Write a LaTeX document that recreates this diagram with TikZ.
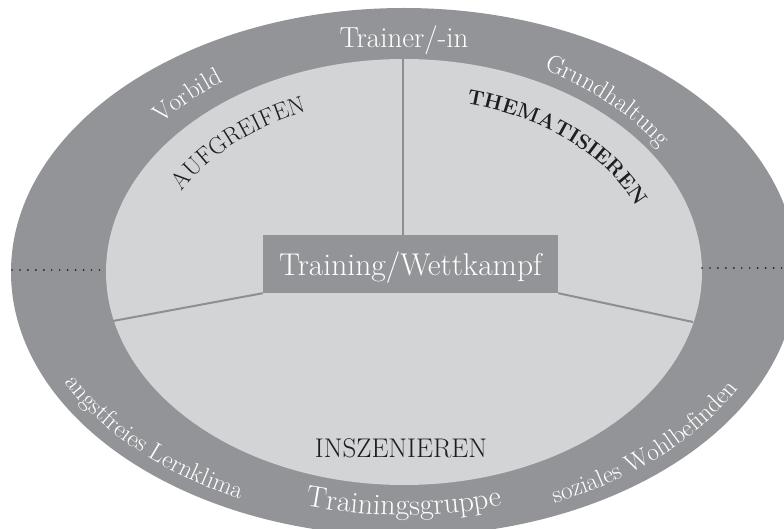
\documentclass[tikz,border=0pt]{standalone}
\usepackage{fontspec}
\usetikzlibrary{decorations.text}
\definecolor{ringgray}{HTML}{939498}
\definecolor{innergray}{HTML}{D3D4D6}
\definecolor{linegray}{HTML}{8E8F93}
\definecolor{inkblack}{HTML}{1E1E1E}
\newcommand{\arclabel}[5]{%
  \path[decorate,decoration={text along path,text align={center},text={#5}}]
    ([shift={(#3:#1pt and #2pt)}]C) arc[start angle=#3,end angle=#4,x radius=#1pt,y radius=#2pt];}
\begin{document}
\begin{tikzpicture}[x=1pt,y=1pt,
  divline/.style={draw=linegray,line width=2pt},
  dotline/.style={draw=inkblack,line width=1.9pt,line cap=round,dash pattern=on 0pt off 7.95pt},
  whitetext/.style={text=white,inner sep=0pt},
  blacktext/.style={text=inkblack,inner sep=0pt}]
\useasboundingbox (0,0) rectangle (784,528);
\clip (0,0) rectangle (784,528);
\coordinate (C) at (404,256);
% rings
\fill[ringgray] (C) ellipse[x radius=393pt,y radius=264pt];
\fill[innergray] (C) ellipse[x radius=298pt,y radius=213pt];
% central box
\node[fill=ringgray,minimum width=295pt,minimum height=58pt,inner sep=0pt,text=white,
      text depth=0pt,font=\fontsize{31.5pt}{31.5pt}\selectfont] (tw) at (410.5,264) {Training/Wettkampf};
% dividing lines
\coordinate (vtop) at (403,469);
\coordinate (lend) at (113,207);
\coordinate (rend) at (693,206);
\draw[divline] (vtop) -- (vtop |- tw.north);
\draw[divline] (tw.south west) -- (lend);
\draw[divline] (tw.south east) -- (rend);
% dotted lines
\coordinate (dl1) at (12,258);
\coordinate (dl2) at (100,258);
\coordinate (dr1) at (702,260);
\coordinate (dr2) at (786,260);
\draw[dotline] (dl1) -- (dl2);
\draw[dotline] (dr1) -- (dr2);
% straight labels
\node[whitetext,anchor=base,font=\fontsize{29pt}{29pt}\selectfont] (trainer) at (404,480) {Trainer/-in};
\node[blacktext,anchor=base,font=\fontsize{27pt}{27pt}\selectfont] (insz) at (401,71) {INSZENIEREN};
% curved labels, outer ring top
\arclabel{315}{232}{176}{96}{|\fontsize{25pt}{25pt}\selectfont\color{white}|Vorbild}
\arclabel{306}{227}{88}{1}{|\fontsize{25pt}{25pt}\selectfont\color{white}|Grundhaltung}
% curved labels, outer ring bottom
\arclabel{377}{252}{178}{264}{|\fontsize{25pt}{25pt}\selectfont\color{white}|angstfreies Lernklima}
\arclabel{377}{252}{274}{360}{|\fontsize{25pt}{25pt}\selectfont\color{white}|soziales Wohlbefinden}
\arclabel{360}{243}{240}{300}{|\fontsize{30pt}{30pt}\selectfont\color{white}|Trainingsgruppe}
% curved labels, inner field
\arclabel{251}{174}{178}{94}{|\fontsize{24pt}{24pt}\selectfont\color{inkblack}|AUFGREIFEN}
\arclabel{251}{174}{90}{2}{|\fontsize{21pt}{21pt}\selectfont\bfseries\color{inkblack}|THEMATISIEREN}
\end{tikzpicture}
\end{document}
